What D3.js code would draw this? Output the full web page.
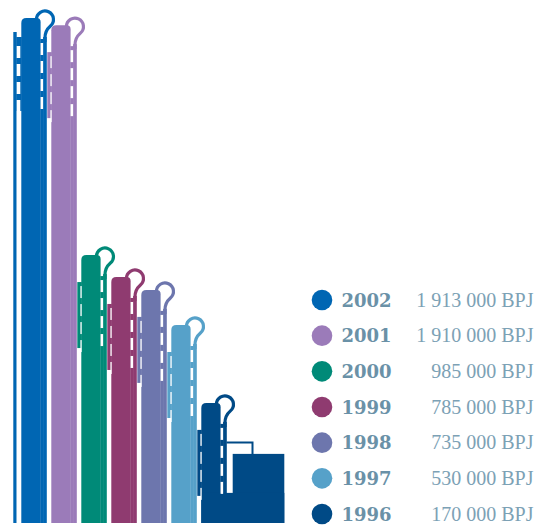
<!DOCTYPE html>
<html>
<head>
<meta charset="utf-8">
<script src="https://cdn.jsdelivr.net/npm/d3@7"></script>
<style>
  body { margin: 0; background: #fff; }
  svg { display: block; }
</style>
</head>
<body>
<svg id="chart"></svg>
<script>
let width = 538, height = 525;

let years = ["2002", "2001", "2000", "1999", "1998", "1997", "1996"];
let values = [1913000, 1910000, 985000, 785000, 735000, 530000, 170000];
// tops of the tubes as they are drawn in the pictogram (the artwork is not to scale with the figures)
let drawnLevels = [1913000, 1886000, 1015000, 932000, 883000, 750000, 455000];
let colors = ["#0066b3", "#9b7bb9", "#008a78", "#8f3b70", "#6d76ad", "#56a1c9", "#004a86"];

let baseY = 523;

let svg = d3.select("#chart")
    .attr("width", width)
    .attr("height", height);

let x = d3.scaleBand().domain(years).range([17.3, 227.3]);
let y = d3.scaleLinear().domain([0, 1913000]).range([baseY, 18]);
let legendY = d3.scalePoint().domain(years).range([300, 514]);

let fmt = d3.formatLocale({decimal: ",", thousands: " ", grouping: [3], currency: ["", ""]}).format(",");

let tubes = svg.append("g").attr("class", "tubes");

// white dashes cut into the gaps next to the body
let dashStarts = [25, 43, 61, 79];
let dashLen = 12;

years.forEach(function(year, i) {
    let L = x(year);
    let T = y(drawnLevels[i]);
    let xs = L + 27.65;
    let g = tubes.append("g").attr("fill", colors[i]);

    // question-mark hook on top of the right pipe
    let r = 8.5, a = 50 * Math.PI / 180;
    let hook = d3.path();
    hook.moveTo(xs - r, T + 1.5);
    hook.arc(xs, T + 1.5, r, Math.PI, 2 * Math.PI + a, false);
    hook.bezierCurveTo(xs + r * Math.cos(a) - 3, T + 1.5 + r * Math.sin(a) + 2.6, xs, T + 14, xs, T + 20);
    hook.lineTo(xs, T + 24);
    g.append("path")
        .attr("d", hook.toString())
        .attr("fill", "none")
        .attr("stroke", colors[i])
        .attr("stroke-width", 3.2);

    // right pipe, joined to the body below the hook
    g.append("rect").attr("x", L + 25.8).attr("y", T + 19).attr("width", 3.7).attr("height", baseY - T - 19);
    g.append("rect").attr("x", L + 23).attr("y", T + 21).attr("width", 3.2).attr("height", baseY - T - 21);

    // left pipe
    if (i === 0) {
        g.append("rect").attr("x", L - 4).attr("y", T + 14).attr("width", 3.4).attr("height", baseY - T - 14);
        g.append("rect").attr("x", L - 1).attr("y", T + 19).attr("width", 5.5).attr("height", 74);
    } else {
        g.append("rect").attr("x", L).attr("y", T + 27).attr("width", 4.5).attr("height", 66);
    }

    // cylinder body with rounded top
    let bx0 = L + 4, bx1 = L + 23.3;
    let body = d3.path();
    body.moveTo(bx0, baseY);
    body.lineTo(bx0, T + 5);
    body.quadraticCurveTo(bx0, T, bx0 + 5, T);
    body.lineTo(bx1 - 4, T);
    body.quadraticCurveTo(bx1, T, bx1, T + 4);
    body.lineTo(bx1, baseY);
    body.closePath();
    g.append("path").attr("d", body.toString());

    // the 1996 tube sits on a boiler block
    if (i === years.length - 1) {
        g.append("rect").attr("x", L + 35.4).attr("y", T + 51).attr("width", 51.6).attr("height", baseY - T - 51);
        g.append("rect").attr("x", L + 4).attr("y", T + 90).attr("width", 83).attr("height", baseY - T - 90);
        g.append("path")
            .attr("d", "M" + (xs + 1.5) + "," + (T + 39.5) + "H" + (L + 55.2) + "V" + (T + 52))
            .attr("fill", "none")
            .attr("stroke", colors[i])
            .attr("stroke-width", 2);
    }

    // white dashes in the gaps
    let w = tubes.append("g").attr("fill", "#fff");
    dashStarts.forEach(function(o) {
        w.append("rect").attr("x", L + 23.3).attr("y", T + o).attr("width", 2.5).attr("height", dashLen);
        if (i === 0) {
            w.append("rect").attr("x", L - 0.6).attr("y", T + o + 3).attr("width", 3.6).attr("height", dashLen);
        } else {
            w.append("rect").attr("x", L + 3.1).attr("y", T + o + 6).attr("width", 1.3).attr("height", dashLen);
        }
    });
    if (i === 0) {
        w.append("rect").attr("x", L - 0.6).attr("y", T + 94).attr("width", 3.6).attr("height", baseY - T - 94);
    }
});

// legend
let legend = svg.append("g").attr("class", "legend");

legend.selectAll("circle")
    .data(years)
    .join("circle")
    .attr("cx", 322)
    .attr("cy", d => legendY(d))
    .attr("r", 10.3)
    .attr("fill", (d, i) => colors[i]);

legend.selectAll("text.year")
    .data(years)
    .join("text")
    .attr("class", "year")
    .attr("x", 341.5)
    .attr("y", d => legendY(d) + 6.6)
    .attr("font-family", "DejaVu Serif")
    .attr("font-weight", "bold")
    .attr("font-size", 18)
    .attr("fill", "#6a91a7")
    .text(d => d);

legend.selectAll("text.value")
    .data(values)
    .join("text")
    .attr("class", "value")
    .attr("x", 533.5)
    .attr("y", (d, i) => legendY(years[i]) + 6.8)
    .attr("text-anchor", "end")
    .attr("font-family", "Liberation Serif")
    .attr("font-size", 20)
    .attr("fill", "#7ca1b5")
    .text(d => fmt(d) + " BPJ");
</script>
</body>
</html>
